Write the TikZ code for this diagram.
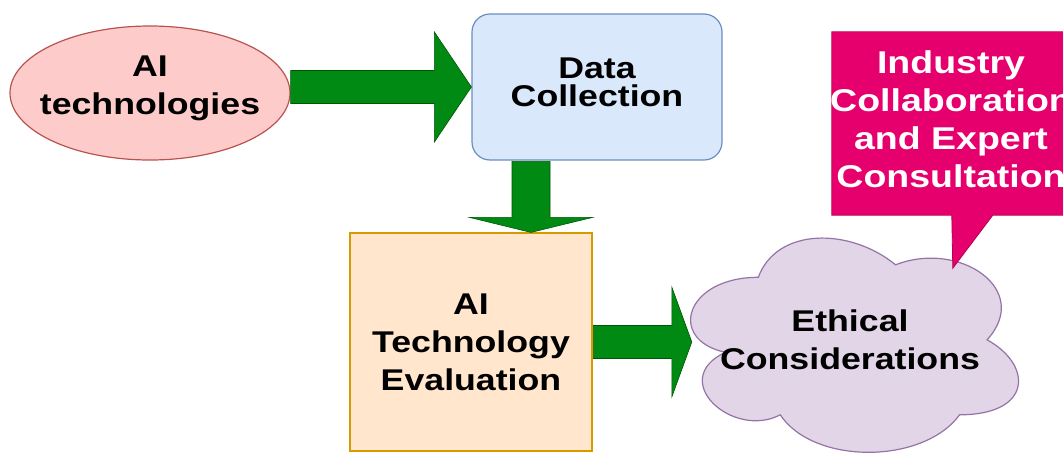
\documentclass[tikz,border=0pt]{standalone}
\usepackage{fontspec}
\setmainfont{Liberation Sans}[FakeStretch=1.19]
\usetikzlibrary{calc,shapes.geometric}

\definecolor{aifill}{HTML}{FDCCCA}
\definecolor{ailine}{HTML}{B85450}
\definecolor{dcfill}{HTML}{DAE8FC}
\definecolor{dcline}{HTML}{6C8EBF}
\definecolor{evfill}{HTML}{FFE6CC}
\definecolor{evline}{HTML}{D79B00}
\definecolor{clfill}{HTML}{E1D5E7}
\definecolor{clline}{HTML}{9673A6}
\definecolor{arrfill}{HTML}{008A14}
\definecolor{arrline}{HTML}{005700}
\definecolor{cofill}{HTML}{E6006E}
\definecolor{coline}{HTML}{B80050}

\begin{document}
\begin{tikzpicture}[x=1pt,y=-1pt,
  lab/.style={font=\bfseries\fontsize{30}{38}\selectfont, align=center, inner sep=0pt},
  smalllab/.style={font=\bfseries\fontsize{30}{28}\selectfont, align=center, inner sep=0pt},
  bigitemlab/.style={font=\bfseries\fontsize{31.5}{38}\selectfont, align=center, inner sep=0pt},
  box/.style={line width=1.2pt, inner sep=0pt},
  blockarrow/.style={fill=arrfill, draw=arrline, line width=0.6pt, line join=miter},
  cloudline/.style={fill=clfill, draw=clline, line width=1.2pt},
  calloutline/.style={fill=cofill, draw=coline, line width=0.8pt, line join=miter}]
\useasboundingbox (0,0) rectangle (1063,453);
\clip (0,0) rectangle (1063,453);

% main shapes
\node[box, ellipse, draw=ailine, fill=aifill, minimum width=280pt, minimum height=134pt] (ai) at (150,93) {};
\node[box, rectangle, rounded corners=18pt, draw=dcline, fill=dcfill, minimum width=250pt, minimum height=146pt] (dc) at (597,87) {};
\node[box, rectangle, draw=evline, fill=evfill, minimum width=242pt, minimum height=218pt] (ev) at (471,342) {};
\node[inner sep=0pt, minimum width=366pt, minimum height=250pt] (cl) at (850,340) {};
\node[inner sep=0pt, minimum width=238pt, minimum height=183pt] (co) at (951,123.5) {};

% cloud outline
\begin{scope}[shift={(cl.north west)}, x=3.66pt, y=-2.5pt]
  \draw[cloudline] (25,25) .. controls (5,25) and (0,50) .. (16,55)
    .. controls (0,66) and (18,90) .. (31,80)
    .. controls (40,100) and (70,100) .. (80,80)
    .. controls (100,80) and (100,60) .. (87.5,50)
    .. controls (100,30) and (80,10) .. (62.5,20)
    .. controls (50,5) and (30,5) .. (25,25) -- cycle;
\end{scope}

% callout with pointer
\draw[calloutline] (co.north west) -- (co.north east) -- (co.south east)
  -- ($(co.south west)+(161,0)$) -- ($(co.south west)+(121,53)$)
  -- ($(co.south west)+(120,0)$) -- (co.south west) -- cycle;

% block arrows
\coordinate (a1s) at (ai.east |- dc.west);
\draw[blockarrow] ($(a1s)+(0,-16.5)$) -- ($(dc.west)+(-37,-16.5)$) -- ($(dc.west)+(-37,-55)$)
  -- (dc.west) -- ($(dc.west)+(-37,55)$) -- ($(dc.west)+(-37,16.5)$) -- ($(a1s)+(0,16.5)$) -- cycle;

\coordinate (a2x) at (531,0);
\coordinate (a2s) at ($(a2x |- dc.south)+(0,0.8)$);
\coordinate (a2t) at (a2x |- ev.north);
\draw[blockarrow] ($(a2s)+(-19,0)$) -- ($(a2t)+(-19,-15)$) -- ($(a2t)+(-61.5,-15)$)
  -- (a2t) -- ($(a2t)+(61.5,-15)$) -- ($(a2t)+(19,-15)$) -- ($(a2s)+(19,0)$) -- cycle;

\coordinate (a3s) at ($(ev.east)+(0.8,0)$);
\coordinate (a3t) at ($(cl.west |- ev.east)+(25,0)$);
\draw[blockarrow] ($(a3s)+(0,-16.5)$) -- ($(a3t)+(-20,-16.5)$) -- ($(a3t)+(-20,-55)$)
  -- (a3t) -- ($(a3t)+(-20,55)$) -- ($(a3t)+(-20,16.5)$) -- ($(a3s)+(0,16.5)$) -- cycle;

% labels
\node[lab] (ait) at ($(ai)+(0,-5)$) {AI\\technologies};
\node[smalllab] (dct) at ($(dc)+(0,-5)$) {Data\\Collection};
\node[lab] (evt) at (ev) {AI\\Technology\\Evaluation};
\node[lab] (clt) at (cl) {Ethical\\Considerations};
\node[bigitemlab, text=white] (cot) at ($(co)+(0,-4)$) {Industry\\Collaboration\\and Expert\\Consultation};
\end{tikzpicture}
\end{document}
